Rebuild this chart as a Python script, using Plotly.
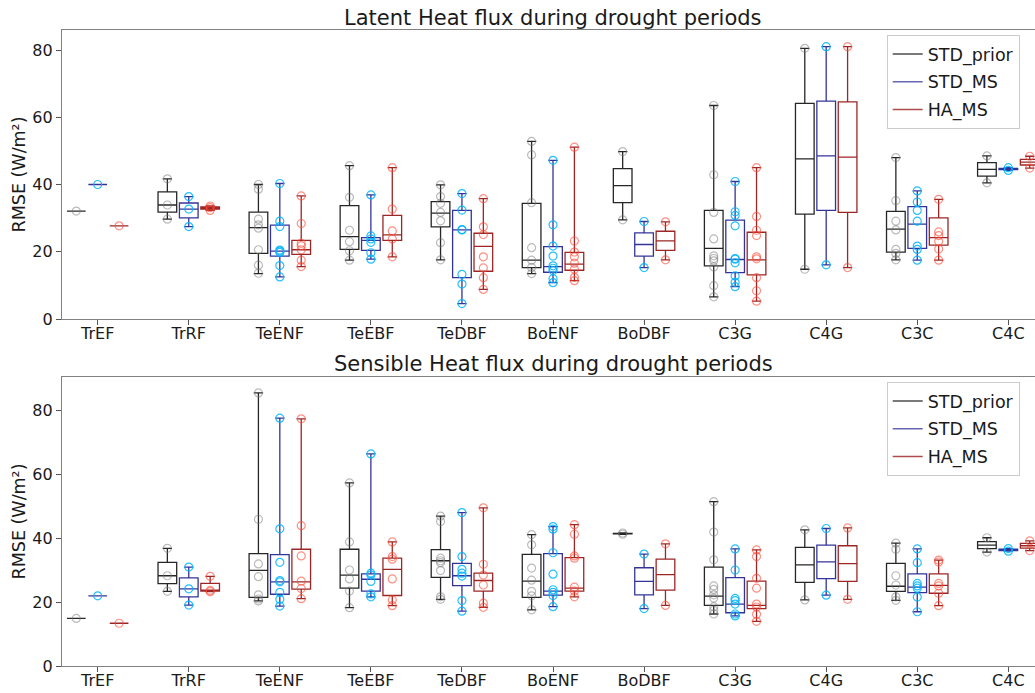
import plotly.graph_objects as go

categories = ["TrEF", "TrRF", "TeENF", "TeEBF", "TeDBF", "BoENF", "BoDBF", "C3G", "C4G", "C3C", "C4C"]
series_names = ["STD_prior", "STD_MS", "HA_MS"]

# ---------- Latent heat (top) : box stats (min, q1, median, q3, max) ----------
LE_prior_box = [(32.1, 32.1, 32.1, 32.1, 32.1), (29.7, 31.8, 33.9, 37.8, 41.7), (13.5, 19.5, 27.2, 31.8, 40.0),
                (17.5, 20.7, 24.5, 33.7, 45.6), (17.6, 27.4, 31.5, 34.9, 39.9), (13.5, 15.3, 17.5, 34.4, 52.8),
                (29.5, 34.6, 39.65, 44.7, 49.8), (6.6, 15.8, 21.0, 32.3, 63.5), (14.8, 31.2, 47.65, 64.1, 80.5),
                (17.6, 19.9, 26.7, 32.0, 48.0), (40.5, 42.5, 44.5, 46.5, 48.5)]
LE_stdms_box = [(40.0, 40.0, 40.0, 40.0, 40.0), (27.5, 30.1, 32.7, 34.5, 36.4), (12.5, 18.7, 20.2, 27.9, 40.3),
                (17.8, 20.4, 23.4, 24.2, 36.9), (4.6, 12.3, 26.5, 32.3, 37.3), (10.8, 13.9, 15.6, 21.5, 47.2),
                (15.3, 18.7, 22.15, 25.6, 29.0), (9.6, 13.8, 17.7, 29.4, 40.9), (16.1, 32.3, 48.5, 64.8, 81.0),
                (17.5, 21.0, 28.2, 33.4, 38.1), (44.2, 44.4, 44.6, 44.8, 45.0)]
LE_hams_box = [(27.7, 27.7, 27.7, 27.7, 27.7), (32.3, 32.7, 33.1, 33.35, 33.6), (15.6, 19.2, 20.6, 23.4, 36.6),
               (18.5, 23.4, 25.0, 30.8, 45.0), (8.8, 14.2, 21.6, 25.5, 35.8), (11.4, 14.5, 16.3, 19.8, 51.1),
               (17.6, 20.4, 23.25, 26.1, 28.9), (5.3, 13.1, 17.6, 25.8, 45.0), (15.3, 31.7, 48.15, 64.6, 81.0),
               (17.5, 22.0, 24.2, 30.1, 35.6), (44.9, 45.8, 46.65, 47.5, 48.4)]

LE_prior_pts = [[32.1], [29.7, 33.9, 41.7], [13.6, 16.0, 20.6, 27.0, 28.0, 29.7, 38.6, 40.0],
                [17.5, 20.3, 23.0, 26.4, 36.2, 45.6], [17.6, 22.7, 29.2, 31.7, 34.4, 36.4, 39.9],
                [13.5, 15.3, 17.5, 21.2, 34.6, 48.8, 52.8], [29.5, 49.8],
                [6.6, 9.9, 15.5, 17.3, 18.0, 18.8, 23.8, 31.7, 42.9, 63.5], [14.8, 80.5],
                [17.6, 19.5, 20.7, 26.5, 29.1, 35.2, 48.0], [40.5, 48.5]]
LE_stdms_pts = [[40.0], [27.5, 32.7, 36.4], [12.5, 15.9, 19.8, 20.2, 20.5, 27.5, 29.1, 40.3],
                [17.8, 19.7, 22.8, 23.8, 24.7, 36.9], [4.6, 10.4, 13.3, 26.5, 26.6, 32.4, 37.3],
                [10.8, 12.0, 14.4, 15.1, 15.8, 18.7, 21.7, 28.0, 47.2], [15.3, 29.0],
                [9.6, 10.9, 12.8, 16.7, 17.8, 18.0, 27.7, 30.8, 31.9, 40.9], [16.1, 81.0],
                [17.5, 20.7, 21.7, 29.1, 32.3, 34.8, 38.1], [44.2, 45.0]]
LE_hams_pts = [[27.7], [32.3, 33.1, 33.6], [15.6, 17.5, 20.6, 21.8, 22.5, 28.4, 36.6],
               [18.5, 23.8, 26.2, 32.7, 45.0], [8.8, 12.3, 15.2, 18.5, 25.1, 27.4, 35.8],
               [11.4, 12.4, 14.8, 16.6, 18.5, 19.9, 23.2, 51.1], [17.6, 28.9],
               [5.3, 8.4, 12.3, 17.9, 18.5, 24.8, 26.4, 30.5, 45.0], [15.3, 81.0],
               [17.5, 20.8, 23.1, 24.8, 25.9, 35.6], [44.9, 48.4]]

# ---------- Sensible heat (bottom) ----------
H_prior_box = [(14.9, 14.9, 14.9, 14.9, 14.9), (23.4, 25.8, 28.3, 32.5, 36.9), (20.4, 21.5, 30.0, 35.2, 85.6),
               (18.3, 24.4, 28.5, 36.6, 57.4), (20.9, 27.8, 33.0, 36.5, 47.0), (17.6, 21.5, 26.6, 35.0, 41.2),
               (41.3, 41.4, 41.5, 41.6, 41.7), (16.3, 19.0, 21.9, 31.0, 51.5), (20.7, 26.2, 31.7, 37.2, 42.7),
               (20.6, 23.4, 25.0, 32.2, 38.5), (35.7, 36.8, 37.9, 39.0, 40.2)]
H_stdms_box = [(22.0, 22.0, 22.0, 22.0, 22.0), (19.1, 21.65, 24.2, 27.6, 31.0), (18.8, 22.5, 26.4, 34.9, 77.7),
               (21.7, 23.5, 27.2, 28.9, 66.5), (17.2, 25.2, 28.3, 32.2, 48.1), (18.6, 22.2, 23.5, 35.2, 43.7),
               (18.0, 22.3, 26.55, 30.8, 35.1), (15.7, 16.7, 19.4, 27.7, 36.7), (22.2, 27.4, 32.65, 37.9, 43.1),
               (17.0, 23.0, 24.7, 28.9, 36.7), (36.0, 36.2, 36.4, 36.6, 36.8)]
H_hams_box = [(13.4, 13.4, 13.4, 13.4, 13.4), (23.3, 23.5, 23.7, 25.9, 28.1), (21.1, 24.1, 26.4, 36.6, 77.5),
              (18.9, 22.1, 30.3, 33.8, 38.9), (18.4, 23.5, 26.8, 29.1, 49.6), (21.7, 23.5, 24.4, 34.0, 44.3),
              (19.0, 23.8, 28.65, 33.5, 38.3), (14.0, 18.0, 19.0, 26.6, 36.4), (20.9, 26.5, 32.1, 37.7, 43.3),
              (18.9, 22.8, 25.3, 28.9, 33.2), (36.2, 36.95, 37.7, 38.45, 39.2)]

H_prior_pts = [[14.9], [23.4, 28.3, 36.9], [20.4, 21.0, 22.3, 28.0, 32.0, 46.0, 85.6],
               [18.3, 23.5, 27.3, 30.1, 38.9, 57.4], [20.9, 21.7, 29.9, 32.4, 33.0, 33.8, 45.3, 47.0],
               [17.6, 22.0, 23.4, 26.9, 30.7, 38.0, 41.2], [41.3, 41.7],
               [16.3, 17.5, 18.6, 21.3, 22.3, 24.0, 25.1, 33.3, 42.0, 51.5], [20.7, 42.7],
               [20.6, 21.7, 25.4, 28.3, 36.6, 38.5], [35.7, 40.2]]
H_stdms_pts = [[22.0], [19.1, 24.2, 31.0], [18.8, 20.9, 23.1, 26.4, 26.8, 32.5, 43.0, 77.7],
               [21.7, 22.6, 26.5, 28.5, 29.1, 66.5], [17.2, 20.5, 28.2, 29.1, 30.3, 34.3, 48.1],
               [18.6, 22.1, 23.1, 23.9, 28.8, 35.5, 42.9, 43.7], [18.0, 35.1],
               [15.7, 16.3, 19.4, 20.5, 21.2, 30.1, 36.7], [22.2, 43.1],
               [17.0, 21.6, 24.4, 25.1, 25.9, 32.4, 36.7], [36.0, 36.8]]
H_hams_pts = [[13.4], [23.3, 23.7, 28.1], [21.1, 24.3, 26.6, 34.5, 44.0, 77.5],
              [18.9, 20.7, 27.3, 33.5, 34.3, 38.9], [18.4, 19.7, 25.4, 28.5, 31.9, 49.6],
              [21.7, 23.5, 24.7, 33.8, 34.5, 41.3, 44.3], [19.0, 38.3],
              [14.0, 16.2, 18.5, 19.4, 24.4, 27.5, 34.3, 36.4], [20.9, 43.3],
              [18.9, 22.8, 25.1, 25.9, 32.6, 33.2], [36.2, 39.2]]

titles = ["Latent Heat flux during drought periods", "Sensible Heat flux during drought periods"]
y_label = "RMSE (W/m²)"

# ---------- styling ----------
FONT = "DejaVu Sans"
offsets = [-0.235, 0.0, 0.235]
box_width = 0.205
line_colors = ["rgba(0,0,0,0.85)", "rgba(0,0,128,0.8)", "rgba(139,0,0,0.85)"]
legend_colors = ["rgba(0,0,0,0.7)", "rgba(0,0,128,0.6)", "rgba(139,0,0,0.7)"]
point_colors = ["rgba(120,120,120,0.5)", "rgba(0,180,255,0.85)", "rgba(255,70,50,0.6)"]

panels = [
    ("x", "y", [LE_prior_box, LE_stdms_box, LE_hams_box], [LE_prior_pts, LE_stdms_pts, LE_hams_pts], "legend"),
    ("x2", "y2", [H_prior_box, H_stdms_box, H_hams_box], [H_prior_pts, H_stdms_pts, H_hams_pts], "legend2"),
]

fig = go.Figure()
for xa, ya, boxes, pts, leg in panels:
    for s in range(3):
        pos = [i + offsets[s] for i in range(len(categories))]
        st = boxes[s]
        fig.add_trace(go.Box(
            x=pos,
            lowerfence=[b[0] for b in st], q1=[b[1] for b in st], median=[b[2] for b in st],
            q3=[b[3] for b in st], upperfence=[b[4] for b in st],
            width=box_width, whiskerwidth=0.5, boxpoints=False,
            line=dict(color=line_colors[s], width=1.3), fillcolor="rgba(0,0,0,0)",
            xaxis=xa, yaxis=ya, showlegend=False, hoverinfo="skip",
        ))
        px, py = [], []
        for i, vals in enumerate(pts[s]):
            for v in vals:
                px.append(pos[i])
                py.append(v)
        fig.add_trace(go.Scatter(
            x=px, y=py, mode="markers",
            marker=dict(symbol="circle-open", size=8, color=point_colors[s], line=dict(width=1.2, color=point_colors[s])),
            xaxis=xa, yaxis=ya, showlegend=False, hoverinfo="skip",
        ))
    for s in range(3):
        fig.add_trace(go.Scatter(
            x=[None], y=[None], mode="lines", name=series_names[s],
            line=dict(color=legend_colors[s], width=1.5),
            xaxis=xa, yaxis=ya, legend=leg, showlegend=True, legendgroup=f"{leg}_{s}",
        ))

W, H = 1035, 693
ml, mr, mt, mb = 62, 0, 30, 27
ph = H - mt - mb

def fy(py):
    return (H - mb - py) / ph

def fx(px):
    return (px - ml) / (W - ml - mr)

top_dom = [fy(319), 1.0]
bot_dom = [0.0, fy(377)]

xcommon = dict(range=[-0.392, 10.293], tickmode="array", tickvals=list(range(len(categories))),
               ticktext=categories, ticks="outside", ticklen=5, tickwidth=1.2, tickcolor="#555",
               ticklabelstandoff=-5,
               showline=True, linecolor="#808080", linewidth=1.3, mirror=True, showgrid=False,
               zeroline=False, automargin=False, tickfont=dict(size=16, color="#1a1a1a", family=FONT))
ycommon = dict(tickmode="array", tickvals=[0, 20, 40, 60, 80], ticks="outside", ticklen=5, tickwidth=1.2,
               tickcolor="#555", showline=True, linecolor="#808080", linewidth=1.3, mirror=False,
               showgrid=False, zeroline=False, automargin=False,
               tickfont=dict(size=16, color="#1a1a1a", family=FONT),
               title=dict(text=y_label, font=dict(size=17.5, color="#1a1a1a", family=FONT), standoff=2))

legcommon = dict(font=dict(size=17.5, color="#1a1a1a", family=FONT), bgcolor="rgba(255,255,255,0.85)",
                 bordercolor="#cccccc", borderwidth=1, xanchor="left", yanchor="top",
                 tracegroupgap=2, itemwidth=30)

fig.update_layout(
    width=W, height=H, autosize=False,
    margin=dict(l=ml, r=mr, t=mt, b=mb, autoexpand=False),
    paper_bgcolor="white", plot_bgcolor="white",
    font=dict(family=FONT, size=16, color="#1a1a1a"),
    boxmode="overlay",
    xaxis=dict(domain=[0, 1], anchor="y", **xcommon),
    xaxis2=dict(domain=[0, 1], anchor="y2", **xcommon),
    yaxis=dict(domain=top_dom, anchor="x", range=[0, 85.95], **ycommon),
    yaxis2=dict(domain=bot_dom, anchor="x2", range=[0, 90.6], **ycommon),
    legend=dict(x=fx(886.7), y=fy(35), **legcommon),
    legend2=dict(x=fx(886.7), y=fy(382), **legcommon),
    annotations=[
        dict(text=titles[0], x=fx(553), y=fy(18), xref="paper", yref="paper",
             xanchor="center", yanchor="middle", showarrow=False, font=dict(size=21, color="#1a1a1a", family=FONT)),
        dict(text=titles[1], x=fx(553), y=fy(364), xref="paper", yref="paper",
             xanchor="center", yanchor="middle", showarrow=False, font=dict(size=21, color="#1a1a1a", family=FONT)),
    ],
)

fig.write_html("out.html", config={"displayModeBar": False},
               post_script="document.body.style.margin='0';document.body.style.padding='0';")
